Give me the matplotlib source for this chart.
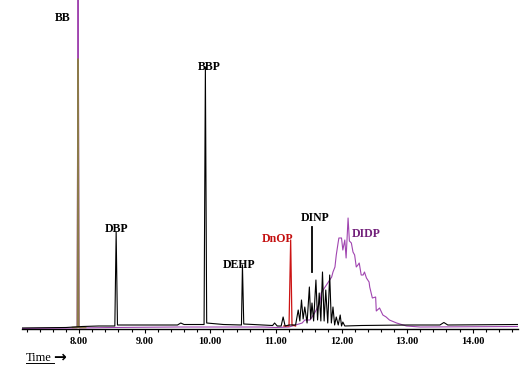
import matplotlib
matplotlib.use("Agg")
import matplotlib.pyplot as plt
from matplotlib.ticker import MultipleLocator, FormatStrFormatter

plt.rcParams["font.family"] = ["Liberation Serif", "DejaVu Serif"]

# ---------- 데이터 (그림에서 읽은 값, 시간[min] / 신호 상대값) ----------
black_t = [7.13, 7.80, 8.05, 8.30, 8.545, 8.565, 8.585, 8.90, 9.30, 9.50, 9.55, 9.60,
           9.905, 9.925, 9.945, 10.20, 10.475, 10.49, 10.51, 10.80, 10.95, 10.98, 11.02,
           11.08, 11.11, 11.14, 11.20, 11.30, 11.34, 11.365, 11.39, 11.415, 11.44, 11.475,
           11.51, 11.53, 11.55, 11.575, 11.61, 11.635, 11.66, 11.685, 11.71, 11.735, 11.76,
           11.79, 11.82, 11.845, 11.87, 11.895, 11.92, 11.95, 11.98, 12.00, 12.02, 12.05,
           12.30, 13.00, 13.50, 13.56, 13.62, 14.69]
black_y = [1, 1.5, 2.5, 3, 3, 97, 4, 4, 4, 4, 6, 4.5,
           4.5, 262, 6, 4.5, 4, 64, 5, 4, 3.5, 6, 3,
           3, 12, 3, 4, 4, 19, 8, 29, 10, 22, 6,
           42, 10, 26, 8, 49, 9, 36, 8, 57, 8, 39,
           6, 54, 6, 22, 4, 12, 4, 14, 3, 7, 3,
           3.5, 4, 4, 6.5, 4, 4.5]

purple_t = [7.13, 7.97, 7.985, 8.00, 8.50, 9.50, 10.47, 10.80, 11.00, 11.20, 11.30, 11.40,
            11.44, 11.52, 11.59, 11.67, 11.69, 11.77, 11.85, 11.87, 11.90, 11.92, 11.95,
            11.96, 12.00, 12.02, 12.05, 12.07, 12.10, 12.12, 12.15, 12.175, 12.20, 12.225,
            12.25, 12.27, 12.30, 12.33, 12.35, 12.38, 12.42, 12.43, 12.47, 12.52, 12.53,
            12.58, 12.63, 12.68, 12.73, 12.84, 12.99, 13.20, 14.69]
purple_y = [0.5, 1, 400, 1, 1.5, 2, 2, 2, 1.5, 2, 4, 6,
            9, 9, 16, 26, 36, 44, 52, 57, 62, 74, 87,
            91, 91, 79, 89, 71, 111, 88, 86, 77, 74, 62,
            64, 66, 54, 54, 57, 51, 47, 42, 31, 32, 18,
            21, 14, 12, 9, 6, 3, 2, 2.5]

red_t = [11.12, 11.20, 11.225, 11.245, 11.30]
red_y = [3, 3, 89, 4, 3]

olive_t = [7.90, 7.975, 7.985, 7.995, 8.10]
olive_y = [1.5, 1.5, 270, 1.5, 1.5]

# 피크 이름표 (이름, 시간, 높이, 색)
labels = ["BB", "DBP", "BBP", "DEHP", "DnOP", "DINP", "DIDP"]
label_t = [7.75, 8.574, 9.99, 10.435, 11.03, 11.59, 12.37]
label_y = [311, 100, 262.5, 64, 89.5, 111, 95]
label_c = ["black", "black", "black", "black", "#c41010", "black", "#72207a"]

# DINP 표시선
dinp_t = 11.546
dinp_y = [57, 102]

# ---------- 그림 ----------
fig = plt.figure(figsize=(5.25, 3.69), dpi=100)
ax = fig.add_axes([22 / 525, 40 / 369, 496 / 525, 329 / 369])

ax.plot(purple_t, purple_y, color="#a045b0", lw=0.8, zorder=3)
ax.plot(olive_t, olive_y, color="#8c7a4a", lw=1.2, zorder=3.5)
ax.plot(red_t, red_y, color="#cc1414", lw=0.9, zorder=3.6)
ax.plot(black_t, black_y, color="black", lw=0.8, zorder=4)
ax.plot([dinp_t, dinp_t], dinp_y, color="black", lw=1.3, zorder=4)

for name, t, y, c in zip(labels, label_t, label_y, label_c):
    ax.text(t, y, name, ha="center", va="center", fontsize=8.5,
            fontweight="bold", color=c, zorder=5)

ax.set_xlim(7.13, 14.69)
ax.set_ylim(0, 329)
for s in ["top", "left", "right"]:
    ax.spines[s].set_visible(False)
ax.spines["bottom"].set_linewidth(1.0)
ax.set_yticks([])
ax.xaxis.set_major_locator(MultipleLocator(1.0))
ax.xaxis.set_minor_locator(MultipleLocator(0.2))
ax.xaxis.set_major_formatter(FormatStrFormatter("%.2f"))
ax.tick_params(axis="x", which="major", direction="out", length=3, width=0.8,
               pad=3, labelsize=7.5)
ax.tick_params(axis="x", which="minor", direction="out", length=2.5, width=0.8)
for lb in ax.get_xticklabels():
    lb.set_fontweight("bold")

fig.text(26 / 525, 1 - 358 / 369, "Time", ha="left", va="center", fontsize=9)
fig.text(53 / 525, 1 - 357 / 369, "\u2192", ha="left", va="center", fontsize=11,
         fontweight="bold", family=["DejaVu Sans"])
fig.add_artist(plt.Line2D([26 / 525, 54 / 525], [1 - 363 / 369, 1 - 363 / 369],
                          color="black", lw=0.7))

fig.savefig("out.png", dpi=100)
